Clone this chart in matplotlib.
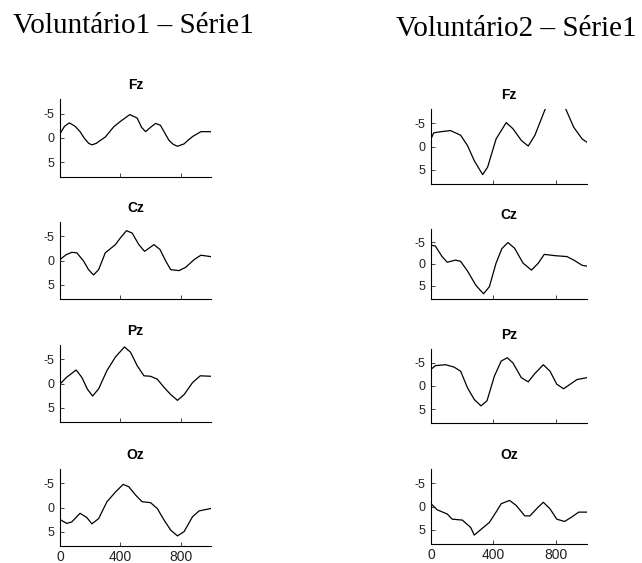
import matplotlib.pyplot as plt

plt.rcParams['font.family'] = ['Liberation Sans', 'DejaVu Sans']

channels = ['Fz', 'Cz', 'Pz', 'Oz']
headers = ['Voluntário1 – Série1', 'Voluntário2 – Série1']
xticks = [0, 400, 800]
yticks = [-5, 0, 5]

# Voluntário1 (time in ms, amplitude in µV; negative up)
v1_fz_t = [0, 30, 62, 100, 133, 160, 190, 211, 240, 267, 300, 356, 400, 462, 511, 540, 567, 600, 633, 665, 689, 722, 750, 778, 822, 850, 878, 933, 1000]
v1_fz_y = [-0.9, -2.4, -3.1, -2.4, -1.3, 0.0, 1.1, 1.4, 1.1, 0.5, -0.2, -2.3, -3.4, -4.8, -4.1, -2.2, -1.3, -2.2, -3.0, -2.6, -1.3, 0.5, 1.3, 1.7, 1.2, 0.4, -0.3, -1.3, -1.3]

v1_cz_t = [0, 40, 78, 111, 156, 189, 222, 256, 300, 367, 400, 440, 478, 522, 560, 600, 622, 662, 700, 733, 789, 833, 889, 933, 1000]
v1_cz_y = [-0.2, -1.2, -1.7, -1.6, 0.1, 1.9, 3.0, 1.9, -1.6, -3.3, -4.7, -6.2, -5.7, -3.3, -1.9, -2.8, -3.3, -2.3, 0.1, 1.9, 2.1, 1.4, -0.2, -1.1, -0.8]

v1_pz_t = [0, 44, 107, 144, 182, 216, 256, 311, 367, 427, 467, 511, 556, 600, 644, 689, 733, 778, 822, 878, 929, 1000]
v1_pz_y = [0.1, -1.3, -2.8, -1.3, 1.2, 2.6, 1.1, -2.7, -5.5, -7.6, -6.5, -3.7, -1.6, -1.5, -0.9, 0.8, 2.3, 3.5, 2.3, -0.2, -1.6, -1.5]

v1_oz_t = [0, 44, 78, 133, 178, 211, 256, 311, 367, 418, 456, 500, 544, 600, 644, 689, 733, 778, 822, 878, 922, 1000]
v1_oz_y = [2.5, 3.3, 3.0, 1.2, 2.1, 3.4, 2.3, -1.2, -3.2, -4.8, -4.3, -2.6, -1.2, -1.0, 0.2, 2.6, 4.7, 5.9, 5.0, 1.9, 0.7, 0.2]

# Voluntário2
v2_fz_t = [0, 17, 50, 125, 190, 234, 277, 331, 363, 417, 482, 525, 579, 623, 666, 731, 760, 800, 840, 865, 915, 969, 1000]
v2_fz_y = [-1.6, -2.9, -3.1, -3.4, -2.4, -0.2, 3.0, 6.0, 4.4, -1.6, -5.1, -3.8, -1.3, -0.1, -2.4, -7.9, -9.6, -10.5, -9.6, -7.9, -4.1, -1.6, -0.9]

v2_cz_t = [0, 28, 71, 104, 158, 190, 234, 288, 337, 374, 417, 454, 493, 536, 590, 644, 688, 726, 796, 871, 915, 969, 1000]
v2_cz_y = [-4.3, -4.1, -1.7, -0.4, -0.9, -0.6, 1.6, 4.9, 6.8, 5.2, -0.2, -3.5, -4.9, -3.6, -0.2, 1.4, -0.2, -2.2, -1.9, -1.7, -0.9, 0.3, 0.5]

v2_pz_t = [0, 28, 93, 147, 190, 234, 277, 320, 359, 406, 450, 489, 525, 579, 623, 666, 720, 763, 806, 850, 893, 936, 1000]
v2_pz_y = [-3.6, -4.4, -4.6, -4.1, -3.2, 0.4, 2.9, 4.3, 3.2, -2.1, -5.4, -6.1, -5.0, -1.8, -0.9, -2.7, -4.6, -3.2, -0.4, 0.6, -0.4, -1.4, -1.8]

v2_oz_t = [0, 39, 104, 136, 201, 255, 277, 320, 374, 417, 450, 504, 547, 601, 634, 688, 720, 763, 806, 856, 904, 947, 1000]
v2_oz_y = [-0.6, 0.7, 1.6, 2.7, 2.9, 4.5, 6.1, 4.9, 3.4, 1.2, -0.6, -1.3, -0.2, 2.0, 2.0, 0.1, -0.9, 0.5, 2.7, 3.2, 2.2, 1.2, 1.2]

series = [
    [(v1_fz_t, v1_fz_y), (v1_cz_t, v1_cz_y), (v1_pz_t, v1_pz_y), (v1_oz_t, v1_oz_y)],
    [(v2_fz_t, v2_fz_y), (v2_cz_t, v2_cz_y), (v2_pz_t, v2_pz_y), (v2_oz_t, v2_oz_y)],
]

W, H = 642, 563
# axes boxes in pixels: (left, top, right, bottom)
boxes = [
    [(60, 99, 211, 177), (60, 222, 211, 299), (60, 345, 211, 422), (60, 469, 211, 546)],
    [(431, 109, 587, 184), (431, 229, 587, 299), (431, 349, 587, 423), (431, 469, 587, 544)],
]

fig = plt.figure(figsize=(W / 100, H / 100), dpi=100)

for col in range(2):
    for row in range(4):
        l, t, r, b = boxes[col][row]
        ax = fig.add_axes([l / W, 1 - b / H, (r - l) / W, (b - t) / H])
        tt, yy = series[col][row]
        ax.plot(tt, yy, color='black', linewidth=0.9)
        ax.set_xlim(0, 1000)
        ax.set_ylim(8, -8)
        ax.set_xticks(xticks)
        ax.set_yticks(yticks)
        ax.set_yticklabels([str(v) for v in yticks])
        if row == 3:
            ax.set_xticklabels([str(v) for v in xticks])
        else:
            ax.set_xticklabels([])
        ax.tick_params(direction='in', length=3, width=0.6, pad=3, colors='#222222')
        ax.tick_params(axis='x', labelsize=10)
        ax.tick_params(axis='y', labelsize=9, pad=4)
        for s in ['top', 'right']:
            ax.spines[s].set_visible(False)
        for s in ['left', 'bottom']:
            ax.spines[s].set_linewidth(0.8)
        ax.set_title(channels[row], fontsize=10, fontweight='bold', pad=7)

fig.text(13 / W, 1 - 33 / H, headers[0], fontsize=21, family='Liberation Serif',
         ha='left', va='baseline')
fig.text(396 / W, 1 - 36 / H, headers[1], fontsize=21, family='Liberation Serif',
         ha='left', va='baseline')

fig.savefig('out.png', dpi=100)
